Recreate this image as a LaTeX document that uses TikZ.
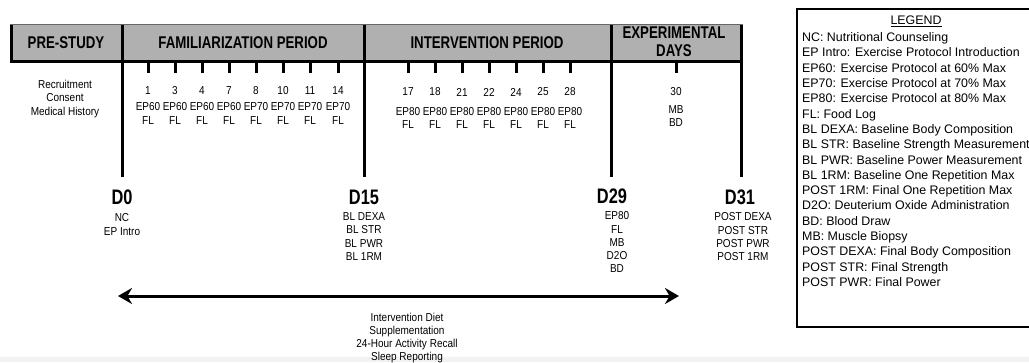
\documentclass[tikz,border=0pt]{standalone}
\usepackage{fontspec}
\setmainfont{Liberation Sans}
\newfontfamily\hdrfont{Liberation Sans}[FakeStretch=0.78]
\newfontfamily\nfont{Liberation Sans}[FakeStretch=0.87]
\usetikzlibrary{arrows.meta}
\definecolor{hdr}{RGB}{176,176,176}
\definecolor{band}{RGB}{242,242,242}
\tikzset{
  hdrtext/.style={font=\hdrfont\bfseries\fontsize{17}{18}\selectfont, inner sep=0, align=center},
  small/.style={font=\nfont\fontsize{11.5}{13.3}\selectfont, inner sep=0, align=center, anchor=north},
  dnum/.style={font=\nfont\fontsize{11.5}{13.3}\selectfont, inner sep=0},
  dlabel/.style={font=\hdrfont\bfseries\fontsize{21}{21}\selectfont, inner sep=0},
  divider/.style={line width=3pt},
  tick/.style={line width=3pt},
  legtext/.style={font=\fontsize{12.4}{15.3}\selectfont, inner sep=0, align=left, anchor=north west}
}
\begin{document}
\begin{tikzpicture}[x=1pt,y=-1pt]
\useasboundingbox (0,0) rectangle (1029,362);
\clip (0,0) rectangle (1029,362);
\fill[band] (0,357) rectangle (1029,362);
% header bar
\fill[hdr] (10,24) rectangle (743,61);
\draw[line width=1pt, black!60] (10,24.5) -- (743,24.5);
\draw[line width=3pt] (11.5,25) -- (11.5,61) -- (743,61);
% dividers
\foreach \n/\x in {a/122,b/364,c/611,d/741} {
  \coordinate (top\n) at (\x,25);
  \coordinate (bot\n) at (\x,177);
  \draw[divider] (top\n) -- (bot\n);
}
% header texts
\node[hdrtext] (hPre) at (66,42.5) {PRE-STUDY};
\node[hdrtext] (hFam) at (243,42.5) {FAMILIARIZATION PERIOD};
\node[hdrtext] (hInt) at (487,42.5) {INTERVENTION PERIOD};
\node[hdrtext] (hExp) at (674,42) {EXPERIMENTAL\\DAYS};
% pre-study
\node[small] (rec) at (65,80) {Recruitment\\Consent\\Medical History};
% familiarization ticks
\foreach \d/\x/\e in {1/148/60,3/175/60,4/202/60,7/229/60,8/256/70,10/283/70,11/310/70,14/338/70} {
  \coordinate (tk\d) at (\x,61);
  \coordinate (te\d) at (\x,73);
  \draw[tick] (tk\d) -- (te\d);
  \node[dnum] (n\d) at (\x,91) {\d};
  \node[small] (e\d) at (\x,102.5) {EP\e\\FL};
}
% intervention ticks
\foreach \d/\x in {17/408,18/435,21/462,22/489,24/516,25/543,28/570} {
  \coordinate (tk\d) at (\x,61);
  \coordinate (te\d) at (\x,73);
  \draw[tick] (tk\d) -- (te\d);
  \node[dnum] (n\d) at (\x,92) {\d};
  \node[small] (e\d) at (\x,107) {EP80\\FL};
}
% experimental
\coordinate (tk30) at (676,61);
\coordinate (te30) at (676,73);
\draw[tick] (tk30) -- (te30);
\node[dnum] (n30) at (676,92) {30};
\node[small] (e30) at (676,105.5) {MB\\BD};
% day labels
\node[dlabel] (D0) at (122,197) {D0};
\node[dlabel] (D15) at (364,197) {D15};
\node[dlabel] (D29) at (612,196) {D29};
\node[dlabel] (D31) at (740,197) {D31};
\node[small] (l0) at (122,213.5) {NC\\EP Intro};
\node[small] (l15) at (364,212.5) {BL DEXA\\BL STR\\BL PWR\\BL 1RM};
\node[small] (l29) at (617,211.5) {EP80\\FL\\MB\\D2O\\BD};
\node[small] (l31) at (743,212.5) {POST DEXA\\POST STR\\POST PWR\\POST 1RM};
% arrow
\coordinate (aL) at (118,296);
\coordinate (aR) at (679,296);
\draw[line width=3pt, {Stealth[length=14pt,width=16pt]}-{Stealth[length=14pt,width=16pt]}] (aL) -- (aR);
\node[small] (bt) at (407,312.5) {Intervention Diet\\Supplementation\\24-Hour Activity Recall\\Sleep Reporting};
% legend
\draw[line width=1.2pt] (797,9) rectangle (1040,327);
\node[font=\fontsize{12.4}{15.3}\selectfont, inner sep=0] (lgT) at (916,21) {\underline{LEGEND}};
\node[legtext] (lgB) at (802,32.5) {NC: Nutritional Counseling\\
EP Intro: Exercise Protocol Introduction\\
EP60: Exercise Protocol at 60\% Max\\
EP70: Exercise Protocol at 70\% Max\\
EP80: Exercise Protocol at 80\% Max\\
FL: Food Log\\
BL DEXA: Baseline Body Composition\\
BL STR: Baseline Strength Measurement\\
BL PWR: Baseline Power Measurement\\
BL 1RM: Baseline One Repetition Max\\
POST 1RM: Final One Repetition Max\\
D2O: Deuterium Oxide Administration\\
BD: Blood Draw\\
MB: Muscle Biopsy\\
POST DEXA: Final Body Composition\\
POST STR: Final Strength\\
POST PWR: Final Power};
\end{tikzpicture}
\end{document}
